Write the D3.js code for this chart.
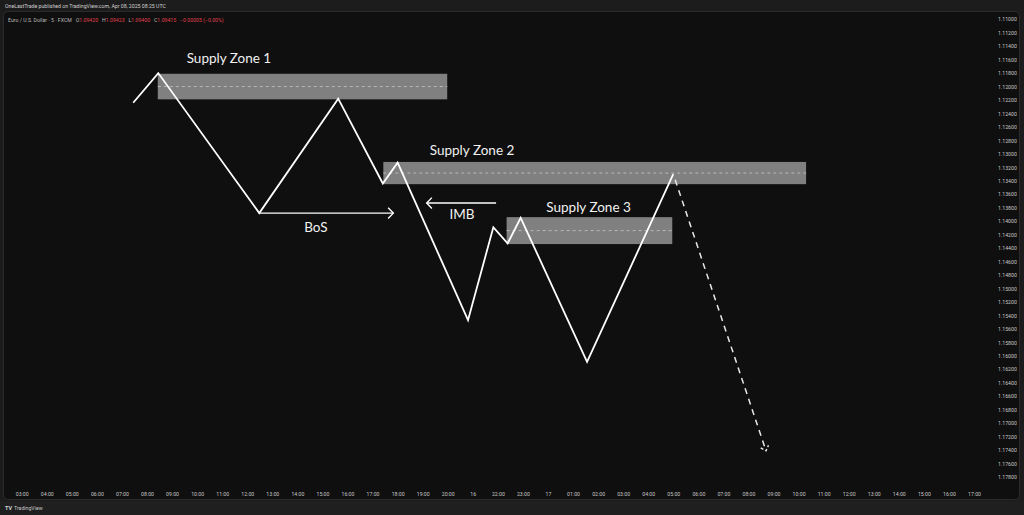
<!DOCTYPE html>
<html>
<head>
<meta charset="utf-8">
<script src="https://cdn.jsdelivr.net/npm/d3@7"></script>
<style>
html,body{margin:0;padding:0;background:#1c1c1c;overflow:hidden;}
svg{display:block;}
</style>
</head>
<body>
<svg id="chart" width="1024" height="515"></svg>
<script>
// ---------- DATA ----------
const timeLabels = ["03:00","04:00","05:00","06:00","07:00","08:00","09:00","10:00","11:00","12:00",
  "13:00","14:00","15:00","16:00","17:00","18:00","19:00","20:00","16","22:00","23:00","17",
  "01:00","02:00","03:00","04:00","05:00","06:00","07:00","08:00","09:00","10:00","11:00",
  "12:00","13:00","14:00","15:00","16:00","17:00"];
const priceTicks = [1.110,1.112,1.114,1.116,1.118,1.120,1.122,1.124,1.126,1.128,1.130,1.132,1.134,
  1.136,1.138,1.140,1.142,1.144,1.146,1.148,1.150,1.152,1.154,1.156,1.158,1.160,1.162,1.164,1.166,
  1.168,1.170,1.172,1.174,1.176,1.178];

// zigzag swing points (hour index, price)
const pathHours  = [4.45, 5.45, 9.48, 12.63, 14.41, 15.00, 17.81, 18.82, 19.39, 19.91, 22.56, 26.00];
const pathPrices = [1.1224, 1.1180, 1.1388, 1.1218, 1.1344, 1.1313, 1.1547, 1.1409, 1.1433, 1.1395, 1.1609, 1.1330];

// projected move (dashed)
const projHours  = [26.00, 29.70];
const projPrices = [1.1330, 1.1741];

// supply zones
const zoneNames  = ["Supply Zone 1", "Supply Zone 2", "Supply Zone 3"];
const zoneStart  = [5.43, 14.43, 19.35];
const zoneEnd    = [16.98, 31.30, 25.96];
const zoneTop    = [1.1181, 1.1312, 1.1394];
const zoneBottom = [1.1219, 1.1345, 1.1434];
const zoneLabelHour  = [8.27, 17.97, 22.62];
const zoneLabelPrice = [1.1165, 1.1302, 1.1386];

// arrows: BoS and IMB
const arrowNames  = ["BoS", "IMB"];
const arrowFrom   = [9.48, 18.93];
const arrowTo     = [14.83, 16.16];
const arrowPrice  = [1.1388, 1.1373];
const arrowLabelHour  = [11.74, 17.57];
const arrowLabelPrice = [1.1416, 1.1397];

// ---------- DRAW ----------
const W = 1024, H = 515;
const svg = d3.select("#chart");

const x = d3.scaleLinear().domain([0, 38]).range([21.7, 974]);
const y = d3.scaleLinear().domain([1.112, 1.178]).range([32.7, 477]);

// frame
svg.append("rect").attr("x",0).attr("y",0).attr("width",W).attr("height",H).attr("fill","#1c1c1c");
svg.append("rect").attr("x",3.5).attr("y",11.5).attr("width",1016).attr("height",488)
  .attr("rx",4).attr("fill","#0f0f0f").attr("stroke","#2b2b2b");

// header text
svg.append("text").attr("x",5).attr("y",7.5).attr("fill","#d0d0d0")
  .attr("font-family","Roboto, sans-serif").attr("font-size",5.2)
  .text("OneLastTrade published on TradingView.com, Apr 08, 2025 08:25 UTC");
const hdr = svg.append("text").attr("x",8).attr("y",21.5).style("white-space","pre")
  .attr("font-family","Roboto, sans-serif").attr("font-size",5.2).attr("fill","#b8b8b8");
hdr.append("tspan").text("Euro / U.S. Dollar · 5 · FXCM   O");
hdr.append("tspan").attr("fill","#e0404e").text("1.09420");
hdr.append("tspan").text("   H");
hdr.append("tspan").attr("fill","#e0404e").text("1.09423");
hdr.append("tspan").text("   L");
hdr.append("tspan").attr("fill","#e0404e").text("1.09400");
hdr.append("tspan").text("   C");
hdr.append("tspan").attr("fill","#e0404e").text("1.09415   −0.00005 (−0.00%)");

// axes
const yAxis = d3.axisRight(y).tickValues(priceTicks).tickSize(0).tickPadding(0)
  .tickFormat(d3.format(".5f"));
const gy = svg.append("g").attr("transform","translate(998,0)").call(yAxis);
gy.select(".domain").remove();
gy.selectAll("text").attr("fill","#c8c8c8").attr("font-family","Roboto, sans-serif").attr("font-size",5.2);

const xAxis = d3.axisBottom(x).tickValues(d3.range(timeLabels.length)).tickSize(0).tickPadding(0)
  .tickFormat(i => timeLabels[i]);
const gx = svg.append("g").attr("transform","translate(0,492)").call(xAxis);
gx.select(".domain").remove();
gx.selectAll("text").attr("fill","#c8c8c8").attr("font-family","Roboto, sans-serif").attr("font-size",5.2);

// bottom bar
svg.append("rect").attr("x",0).attr("y",501).attr("width",W).attr("height",14).attr("fill","#1f1f1f");
svg.append("text").attr("x",5).attr("y",510).attr("fill","#d8d8d8")
  .attr("font-family","Roboto, sans-serif").attr("font-size",5.5).attr("font-weight","bold")
  .text("TV");
svg.append("text").attr("x",14).attr("y",510).attr("fill","#c8c8c8")
  .attr("font-family","Roboto, sans-serif").attr("font-size",5.2)
  .text("TradingView");

// zones
const zones = zoneNames.map((n,i)=>({n, s:zoneStart[i], e:zoneEnd[i], t:zoneTop[i], b:zoneBottom[i],
  lh:zoneLabelHour[i], lp:zoneLabelPrice[i]}));
const zg = svg.append("g");
zg.selectAll("rect.zone").data(zones).join("rect").attr("class","zone")
  .attr("x",d=>x(d.s)).attr("y",d=>y(d.t))
  .attr("width",d=>x(d.e)-x(d.s)).attr("height",d=>y(d.b)-y(d.t))
  .attr("fill","#808080");
zg.selectAll("line.mid").data(zones).join("line").attr("class","mid")
  .attr("x1",d=>x(d.s)).attr("x2",d=>x(d.e))
  .attr("y1",d=>y((d.t+d.b)/2)).attr("y2",d=>y((d.t+d.b)/2))
  .attr("stroke","#b8b8b8").attr("stroke-width",1).attr("stroke-dasharray","3,3");
zg.selectAll("text.zl").data(zones).join("text").attr("class","zl")
  .attr("x",d=>x(d.lh)).attr("y",d=>y(d.lp)).attr("text-anchor","middle")
  .attr("fill","#f2f2f2").attr("font-family","Lato, sans-serif").attr("font-size",13.5)
  .text(d=>d.n);

// main path
const pts = pathHours.map((h,i)=>[x(h), y(pathPrices[i])]);
svg.append("path").attr("d", d3.line()(pts)).attr("fill","none")
  .attr("stroke","#ffffff").attr("stroke-width",1.8).attr("stroke-linejoin","miter");

// projection dashed
const p0 = [x(projHours[0]), y(projPrices[0])], p1 = [x(projHours[1]), y(projPrices[1])];
const ang = Math.atan2(p1[1]-p0[1], p1[0]-p0[0]);
const startOff = 6;
svg.append("line")
  .attr("x1", p0[0]+Math.cos(ang)*startOff).attr("y1", p0[1]+Math.sin(ang)*startOff)
  .attr("x2", p1[0]).attr("y2", p1[1])
  .attr("stroke","#e8e8e8").attr("stroke-width",1.5).attr("stroke-dasharray","6,5");
function chevron(tip, a, len, spread){
  const a1 = a + Math.PI - spread, a2 = a + Math.PI + spread;
  return `M${tip[0]+Math.cos(a1)*len},${tip[1]+Math.sin(a1)*len}L${tip[0]},${tip[1]}L${tip[0]+Math.cos(a2)*len},${tip[1]+Math.sin(a2)*len}`;
}
svg.append("path").attr("d", chevron(p1, ang, 6, 0.75)).attr("fill","none")
  .attr("stroke","#e8e8e8").attr("stroke-width",1.4).attr("stroke-dasharray","3,2");

// arrows
arrowNames.forEach((n,i)=>{
  const a = [x(arrowFrom[i]), y(arrowPrice[i])], b = [x(arrowTo[i]), y(arrowPrice[i])];
  const an = Math.atan2(b[1]-a[1], b[0]-a[0]);
  svg.append("line").attr("x1",a[0]).attr("y1",a[1]).attr("x2",b[0]).attr("y2",b[1])
    .attr("stroke","#ffffff").attr("stroke-width",1.4);
  svg.append("path").attr("d", chevron(b, an, 7.5, 0.8)).attr("fill","none")
    .attr("stroke","#ffffff").attr("stroke-width",1.4);
  svg.append("text").attr("x",x(arrowLabelHour[i])).attr("y",y(arrowLabelPrice[i]))
    .attr("text-anchor","middle").attr("fill","#f2f2f2")
    .attr("font-family","Lato, sans-serif").attr("font-size",13.5).text(n);
});
</script>
</body>
</html>
